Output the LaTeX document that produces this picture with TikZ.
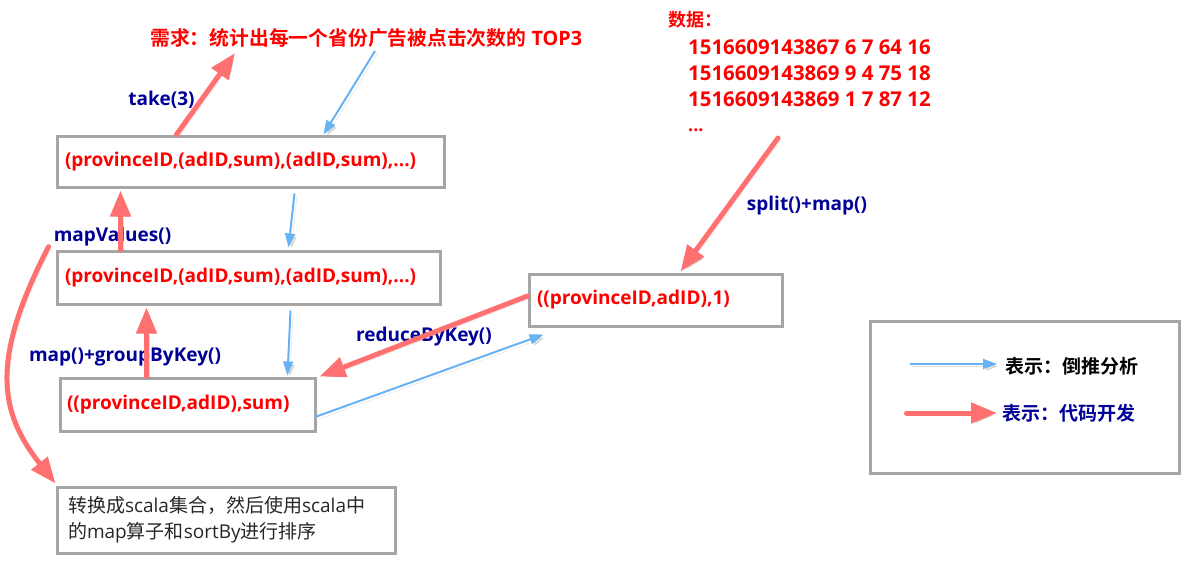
\documentclass[tikz,border=0pt]{standalone}
\usepackage{fontspec}
\setmainfont{Open Sans}
\newfontfamily\cjk{Noto Sans CJK SC}[BoldFont={Noto Sans CJK SC Bold}]
\usetikzlibrary{calc,arrows.meta}
\definecolor{tred}{RGB}{255,0,0}
\definecolor{tblue}{RGB}{0,0,150}
\definecolor{ared}{RGB}{255,112,112}
\definecolor{ablue}{RGB}{102,178,245}
\definecolor{bgray}{RGB}{166,166,166}
\begin{document}
\begin{tikzpicture}[x=1pt,y=-1pt,
  box/.style={draw=bgray, line width=3pt, align=left, inner ysep=0pt, text=tred,
    font=\bfseries\fontsize{19}{23}\selectfont},
  lbl/.style={text=tblue, inner sep=0pt, font=\bfseries\fontsize{19}{23}\selectfont},
  redtxt/.style={text=tred, inner sep=0pt, anchor=west},
  shadowed/.style={preaction={draw=black, fill=none, opacity=0.13, transform canvas={shift={(2.5pt,-2.5pt)}}}},
  redarr/.style={draw=ared, line width=5pt, line cap=round, -{Triangle[length=26pt,width=20pt]}, shadowed},
  bluearr/.style={draw=ablue, line width=2pt, -{Triangle[length=14pt,width=10pt]}, shadowed},
]
\useasboundingbox (0,0) rectangle (1187,568);

% boxes
\node[box, inner xsep=8pt, text width=371pt, minimum height=51pt] (b1) at (250.5,161.5)
  {(provinceID,(adID,sum),(adID,sum),...)};
\node[box, inner xsep=8pt, text width=367pt, minimum height=53pt] (b2) at (248.5,277.5)
  {(provinceID,(adID,sum),(adID,sum),...)};
\node[box, inner xsep=7pt, text width=241pt, minimum height=53pt] (b3) at (187.5,404.5)
  {((provinceID,adID),sum)};
\node[box, inner xsep=8pt, text width=237pt, minimum height=52pt] (b4) at (655.5,300)
  {((provinceID,adID),1)};
\node[box, inner xsep=11pt, text width=316pt, minimum height=66pt, text=black!85,
  font=\fontsize{19}{26}\selectfont] (b5) at (226,520)
  {{\cjk 转换成}scala{\cjk 集合，然后使用}scala{\cjk 中}\\{\cjk 的}map{\cjk 算子和}sortBy{\cjk 进行排序}};
\node[draw=bgray, line width=3pt, minimum width=309pt, minimum height=152pt] (leg) at (1024.5,397) {};

% title and data
\node[redtxt, font=\bfseries\fontsize{19.8}{24}\selectfont] (title) at (150,38)
  {{\cjk 需求：统计出每一个省份广告被点击次数的} TOP3};
\node[redtxt, font=\bfseries\fontsize{18}{22}\selectfont] (d0) at (668,20) {{\cjk 数据：}};
\node[redtxt, font=\bfseries\fontsize{20.4}{24}\selectfont] (d1) at (688,47) {1516609143867 6 7 64 16};
\node[redtxt, font=\bfseries\fontsize{20.4}{24}\selectfont] (d2) at (688,73) {1516609143869 9 4 75 18};
\node[redtxt, font=\bfseries\fontsize{20.4}{24}\selectfont] (d3) at (688,99) {1516609143869 1 7 87 12};
\node[redtxt, anchor=base west, font=\bfseries\fontsize{18}{24}\selectfont] (d4) at (688,131) {...};

% labels
\node[lbl] (ltake) at (161.5,100) {take(3)};
\node[lbl] (lmv) at (112.5,237) {mapValues()};
\node[lbl] (lgbk) at (125,357) {map()+groupByKey()};
\node[lbl] (lrbk) at (424,337) {reduceByKey()};
\node[lbl] (lsplit) at (807,206) {split()+map()};

% legend texts
\node[anchor=west, inner sep=0pt, text=black, font=\bfseries\fontsize{19}{23}\selectfont] (lg1) at (1005,366) {{\cjk 表示：倒推分析}};
\node[anchor=west, inner sep=0pt, text=tblue, font=\bfseries\fontsize{19}{23}\selectfont] (lg2) at (1002,413) {{\cjk 表示：代码开发}};

% connectors
\draw[redarr] ($(b1.north west)+(121,0)$) -- ($(title.west)+(85,15)$);
\draw[bluearr] ($(title.west)+(225,13)$) -- ($(b1.north west)+(268,0)$);
\draw[bluearr] ($(b1.south west)+(239,5)$) -- ($(b2.north west)+(233,-2)$);
\draw[redarr] ($(b2.north west)+(65,0)$) -- ($(b1.south west)+(65,2)$);
\draw[bluearr] ($(b2.south west)+(235,5)$) -- ($(b3.north west)+(229,-1)$);
\draw[redarr] ($(b3.north west)+(88,0)$) -- ($(b2.south west)+(91,2)$);
\draw[redarr] ($(b4.west)+(0,-4)$) -- ($(b3.north east)+(3,0)$);
\draw[bluearr] ($(b3.east)+(0,12)$) -- ($(b4.south west)+(16,7)$);
\draw[redarr] ($(d4.base west)+(90,7)$) -- ($(b4.north west)+(153,-1)$);
\draw[redarr] ($(lmv.south west)+(-5,0)$) .. controls (-10,360) and (-1,412) .. ($(b5.north west)+(0,-2)$);

% legend arrows
\coordinate (la1) at ($(leg.west)+(41,-33)$);
\coordinate (la2) at ($(leg.west)+(38,16)$);
\draw[bluearr] (la1) -- ($(lg1.west)+(-8,-2)$);
\draw[redarr] (la2) -- ($(lg2.west)+(-5,0)$);
\end{tikzpicture}
\end{document}
